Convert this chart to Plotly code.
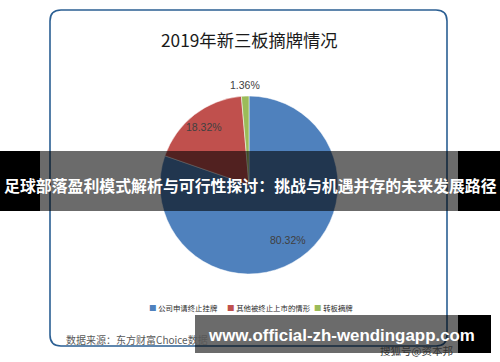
import math
import plotly.graph_objects as go

# ---------------- data ----------------
title_text = "2019年新三板摘牌情况"
categories = ["公司申请终止挂牌", "其他被终止上市的情形", "转板摘牌"]
shares = [80.32, 18.32, 1.36]
label_texts = ["80.32%", "18.32%", "1.36%"]
source_text = "数据来源：东方财富Choice数据"
banner_text = "足球部落盈利模式解析与可行性探讨：挑战与机遇并存的未来发展路径"
site_text = "www.official-zh-wendingapp.com"
mark_text = "搜狐号@资本邦"

# ---------------- style ----------------
colors = ["#4f81bd", "#c0504d", "#9bbb59"]
W, H = 500, 362
CJK = "Noto Sans CJK SC"


def px(x):
    return x / W


def py(y):
    return 1 - y / H


CX, CY, R = 249, 185, 89
label_r = [0.76, 0.82, 1.12]

fig = go.Figure(
    go.Pie(
        values=shares,
        labels=categories,
        marker=dict(colors=colors, line=dict(color="white", width=0.5)),
        sort=False,
        direction="clockwise",
        rotation=0,
        textinfo="none",
        hoverinfo="label+percent",
        showlegend=False,
        domain=dict(x=[px(CX - R), px(CX + R)], y=[py(CY + R), py(CY - R)]),
    )
)


def ann(x, y, text, font, xanchor="center"):
    return dict(x=px(x), y=py(y), xref="paper", yref="paper", text=text,
                showarrow=False, xanchor=xanchor, yanchor="middle", font=font)


annotations = []
total = sum(shares)
cum = 0.0
for v, t, rr in zip(shares, label_texts, label_r):
    mid = (cum + v / 2) / total * 2 * math.pi
    cum += v
    lx = CX + rr * R * math.sin(mid)
    ly = CY - rr * R * math.cos(mid)
    annotations.append(ann(lx, ly, t, dict(family="Liberation Sans", size=10.5, color="#404040")))

# title
annotations.append(ann(249, 40, title_text, dict(family=CJK, size=17.3, color="#1a1a1a")))

# legend
leg_x = [147, 225, 312]
for name, c, x in zip(categories, colors, leg_x):
    annotations.append(ann(x, 307, f"<span style='color:{c};font-size:7.5px'>■</span> {name}",
                           dict(family=CJK, size=7.4, color="#2a2a2a"), xanchor="left"))

# source
annotations.append(ann(64, 339, source_text, dict(family=CJK, size=10, color="#595959"), xanchor="left"))

# watermark under bottom box
annotations.append(ann(378, 350, mark_text, dict(family=CJK, size=10.5, color="#333333"), xanchor="left"))

# banner text
annotations.append(ann(250, 185, f"<b>{banner_text}</b>", dict(family=CJK, size=15.9, color="white")))

# site text
annotations.append(ann(341.5, 335, f"<b>{site_text}</b>", dict(family="Liberation Sans", size=16.9, color="white")))

# rounded border
x0, x1, y0, y1, r = 50, 447, 10, 346, 11
path = (f"M {px(x0 + r)},{py(y0)} L {px(x1 - r)},{py(y0)} Q {px(x1)},{py(y0)} {px(x1)},{py(y0 + r)} "
        f"L {px(x1)},{py(y1 - r)} Q {px(x1)},{py(y1)} {px(x1 - r)},{py(y1)} "
        f"L {px(x0 + r)},{py(y1)} Q {px(x0)},{py(y1)} {px(x0)},{py(y1 - r)} "
        f"L {px(x0)},{py(y0 + r)} Q {px(x0)},{py(y0)} {px(x0 + r)},{py(y0)} Z")

shapes = [
    dict(type="path", path=path, xref="paper", yref="paper",
         line=dict(color="#2b5f93", width=1.6), layer="below"),
    # banner
    dict(type="rect", xref="paper", yref="paper", x0=px(40), x1=px(458), y0=py(211), y1=py(151),
         fillcolor="rgba(0,0,0,0.58)", line=dict(width=0), layer="above"),
    dict(type="rect", xref="paper", yref="paper", x0=0, x1=px(40), y0=py(211), y1=py(151),
         fillcolor="black", line=dict(width=0), layer="above"),
    dict(type="rect", xref="paper", yref="paper", x0=px(458), x1=1, y0=py(211), y1=py(151),
         fillcolor="black", line=dict(width=0), layer="above"),
    # bottom site box
    dict(type="rect", xref="paper", yref="paper", x0=px(195), x1=px(458), y0=py(353), y1=py(315),
         fillcolor="rgba(0,0,0,0.58)", line=dict(width=0), layer="above"),
    dict(type="rect", xref="paper", yref="paper", x0=px(458), x1=px(491), y0=py(353), y1=py(315),
         fillcolor="black", line=dict(width=0), layer="above"),
]

fig.update_layout(
    width=W, height=H, autosize=False,
    margin=dict(l=0, r=0, t=0, b=0),
    paper_bgcolor="white", plot_bgcolor="white",
    annotations=annotations, shapes=shapes,
    showlegend=False,
)

fig.write_html(
    "out.html",
    config={"displayModeBar": False},
    post_script="document.body.style.margin='0';document.body.style.padding='0';"
                "document.body.style.overflow='hidden';",
)
